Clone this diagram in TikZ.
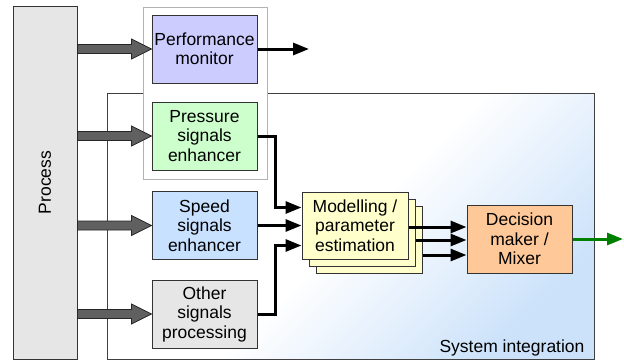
\documentclass[tikz,border=0pt]{standalone}
\usepackage{fontspec}
\setmainfont{Liberation Sans}
\usepackage{tikz}
\usetikzlibrary{arrows.meta,calc,shadings}
\definecolor{perfblue}{HTML}{CCCCFF}
\definecolor{presgreen}{HTML}{CCFFCC}
\definecolor{speedblue}{HTML}{C8E1FF}
\definecolor{othergray}{HTML}{E6E6E6}
\definecolor{modelyellow}{HTML}{FFFFCC}
\definecolor{mixorange}{HTML}{FFC898}
\definecolor{sysblue}{HTML}{CCE2FA}
\definecolor{fatgray}{HTML}{606060}
\definecolor{okgreen}{HTML}{008000}
\newcommand{\boxfont}{\fontsize{17.5}{19.5}\selectfont}
% fat grey arrow from the process bar to a box
\newcommand{\fatarrow}[1]{%
  \filldraw[fat] ($(process.east |- #1.west)+(0,-4.5)$) -- ($(#1.west)+(-20,-4.5)$)
    -- ($(#1.west)+(-20,-10)$) -- (#1.west) -- ($(#1.west)+(-20,10)$)
    -- ($(#1.west)+(-20,4.5)$) -- ($(process.east |- #1.west)+(0,4.5)$) -- cycle;}

\begin{document}
\begin{tikzpicture}[x=1pt,y=-1pt,
  box/.style={draw=black!80, line width=1pt, minimum width=105pt, minimum height=68pt,
    inner sep=0pt, align=center, font=\boxfont},
  conn/.style={line width=3pt, -{Triangle[length=16pt,width=12pt]}},
  fat/.style={draw=black!85, fill=fatgray, line width=0.8pt}]
  \useasboundingbox (0,0) rectangle (624,362);
  % Define coordinates
  \coordinate (perfout) at (309,49);
  \coordinate (sysout) at (623,239);
  \shadedraw[top color=white, bottom color=sysblue, middle color=white, shading angle=45,
    draw=black!75, line width=1pt] (107,93) rectangle (594,359);
  \node[anchor=south east, font=\boxfont] (syslabel) at (588,360) {System integration};
  \draw[black!30, fill=white, line width=1pt] (143,7) rectangle (267,179);
  \node[draw=black!80, fill=othergray, line width=1pt, minimum width=64pt, minimum height=353pt,
    label={[rotate=90, font=\boxfont]center:Process}] (process) at (45,182.5) {};

  \node[box, fill=perfblue] (perf) at (204.5,49) {Performance\\monitor};
  \node[box, fill=presgreen] (pressure) at (204.5,136) {Pressure\\signals\\enhancer};
  \node[box, fill=speedblue] (speed) at (204.5,225.5) {Speed\\signals\\enhancer};
  \node[box, fill=othergray] (other) at (204.5,314) {Other\\signals\\processing};

  \node[box, fill=modelyellow, minimum width=106pt, minimum height=67pt] (modelC) at (369.5,239.5) {};
  \node[box, fill=modelyellow, minimum width=106pt, minimum height=67pt] (modelB) at (362,232.5) {};
  \node[box, fill=modelyellow, minimum width=106pt, minimum height=67pt] (modelA) at (355,225.5) {Modelling /\\parameter\\estimation};
  \node[box, fill=mixorange] (mixer) at (519.5,239) {Decision\\maker /\\Mixer};

  \fatarrow{perf}
  \fatarrow{pressure}
  \fatarrow{speed}
  \fatarrow{other}

  \draw[conn] (perf.east) -- (perfout);
  \draw[conn] (pressure.east) -- ++(18,0) |- ($(modelA.west)+(0,-18)$);
  \draw[conn] (speed.east) -- (modelA.west);
  \draw[conn] (other.east) -- ++(18,0) |- ($(modelA.west)+(0,20)$);
  \draw[conn] ($(modelA.east |- mixer.west)+(0,-12)$) -- ($(mixer.west)+(0,-12)$);
  \draw[conn] ($(modelB.east |- mixer.west)+(0,1)$) -- ($(mixer.west)+(0,1)$);
  \draw[conn] ($(modelC.east |- mixer.west)+(0,16)$) -- ($(mixer.west)+(0,16)$);
  \draw[conn, okgreen] (mixer.east) -- (sysout);
\end{tikzpicture}
\end{document}
